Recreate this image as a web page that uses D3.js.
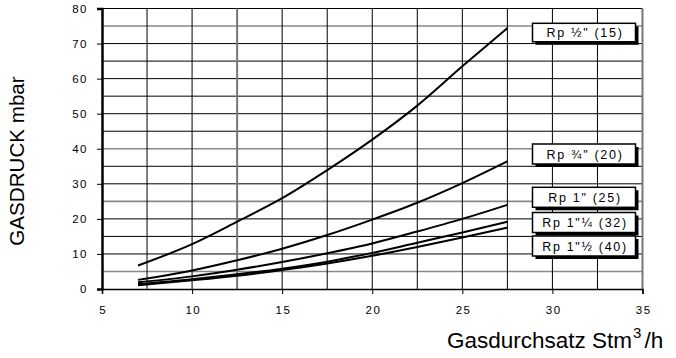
<!DOCTYPE html>
<html><head><meta charset="utf-8">
<script src="https://cdn.jsdelivr.net/npm/d3@7"></script>
<style>
html,body{margin:0;padding:0;background:#fff;}
svg{display:block;font-family:"Liberation Sans",Arial,Helvetica,sans-serif;}
</style></head>
<body><svg id="c" width="676" height="358"></svg>
<script>
// Data
const flow = [7, 10, 12.5, 15, 17.5, 20, 22.5, 25, 27.5];
const rp15 = [6.7, 12.8, 19.2, 25.9, 33.9, 42.6, 52.3, 63.5, 74.4];
const rp20 = [2.6, 5.3, 8.2, 11.5, 15.4, 19.8, 24.6, 30.2, 36.4];
const rp25 = [1.9, 3.6, 5.5, 7.7, 10.2, 13.0, 16.4, 20.0, 24.0];
const rp32 = [1.4, 2.8, 4.2, 5.8, 7.8, 10.3, 13.2, 16.1, 19.2];
const rp40 = [1.1, 2.5, 3.8, 5.4, 7.3, 9.5, 12.0, 14.7, 17.5];
const seriesLabels = ['Rp ½" (15)', 'Rp ¾" (20)', 'Rp 1" (25)', 'Rp 1"¼ (32)', 'Rp 1"½ (40)'];
const xTicks = [5, 10, 15, 20, 25, 30, 35];
const yTicks = [0, 10, 20, 30, 40, 50, 60, 70, 80];
const xTitle = "Gasdurchsatz Stm";
const yTitle = "GASDRUCK mbar";

const series = [rp15, rp20, rp25, rp32, rp40];

const svg = d3.select("#c");
const x = d3.scaleLinear().domain([5, 35]).range([102, 642.5]);
const y = d3.scaleLinear().domain([0, 80]).range([289, 8.5]);

// grid
const grayH = new Set([75, 40, 25, 5]);
const grayV = new Set([12.5, 35]);
const g = svg.append("g");
d3.range(5, 80.1, 5).forEach(v => {
  g.append("line").attr("x1", x(5)).attr("x2", x(35)).attr("y1", y(v)).attr("y2", y(v))
    .attr("stroke", grayH.has(v) ? "#888" : "#000").attr("stroke-width", grayH.has(v) ? 1.6 : 1);
});
d3.range(7.5, 35.1, 2.5).forEach(v => {
  g.append("line").attr("y1", y(0)).attr("y2", y(80)).attr("x1", x(v)).attr("x2", x(v))
    .attr("stroke", grayV.has(v) ? "#777" : "#000").attr("stroke-width", grayV.has(v) ? 2 : 1);
});

// axes
const yAxis = svg.append("g").attr("transform", `translate(${x(5)},0)`)
  .call(d3.axisLeft(y).tickValues(yTicks).tickSize(5).tickPadding(9).tickFormat(d3.format("d")));
const xAxis = svg.append("g").attr("transform", `translate(0,${y(0)})`)
  .call(d3.axisBottom(x).tickValues(xTicks).tickSize(5).tickPadding(12).tickFormat(d3.format("d")));
[yAxis, xAxis].forEach(a => {
  a.selectAll("text").attr("font-size", 11.5).attr("fill", "#000")
    .attr("font-family", '"Liberation Sans",Arial,sans-serif').style("letter-spacing", "1.5px");
  a.selectAll(".tick line").attr("stroke", "#000");
});
yAxis.select(".domain").attr("stroke", "#000").attr("stroke-width", 2.5);
xAxis.select(".domain").attr("stroke", "#000").attr("stroke-width", 1.5);
xAxis.selectAll("text").attr("dx", "0.75px");

// curves
const line = d3.line().x(d => x(d[0])).y(d => y(d[1])).curve(d3.curveMonotoneX);
series.forEach(s => {
  svg.append("path").datum(flow.map((f, i) => [f, s[i]]))
    .attr("d", line).attr("fill", "none").attr("stroke", "#000").attr("stroke-width", 2);
});

// legend boxes
const boxTops = [23.3, 144, 187.3, 212.5, 236];
const boxHeights = [18.5, 20, 20, 20, 20];
const bx = 532.5, bw = 103, sh = 3;
seriesLabels.forEach((lab, i) => {
  const lg = svg.append("g");
  lg.append("rect").attr("x", bx + sh).attr("y", boxTops[i] + sh).attr("width", bw).attr("height", boxHeights[i]).attr("fill", "#000");
  lg.append("rect").attr("x", bx).attr("y", boxTops[i]).attr("width", bw).attr("height", boxHeights[i])
    .attr("fill", "#fff").attr("stroke", "#000").attr("stroke-width", 1.5);
  lg.append("text").attr("x", bx + bw / 2 + 1).attr("y", boxTops[i] + boxHeights[i] / 2 + 4.5)
    .attr("text-anchor", "middle").attr("font-size", 12.5).style("letter-spacing", "1.7px").text(lab);
});

// titles
svg.append("text").attr("transform", "translate(24,161) rotate(-90)")
  .attr("text-anchor", "middle").attr("font-size", 20.6).text(yTitle);
const xt = svg.append("text").attr("x", 447).attr("y", 348).attr("font-size", 22.5);
xt.append("tspan").text(xTitle);
xt.append("tspan").attr("font-size", 15).attr("dy", -10).attr("dx", 1).text("3");
xt.append("tspan").attr("dy", 10).attr("dx", 3).text("/h");
</script></body></html>
